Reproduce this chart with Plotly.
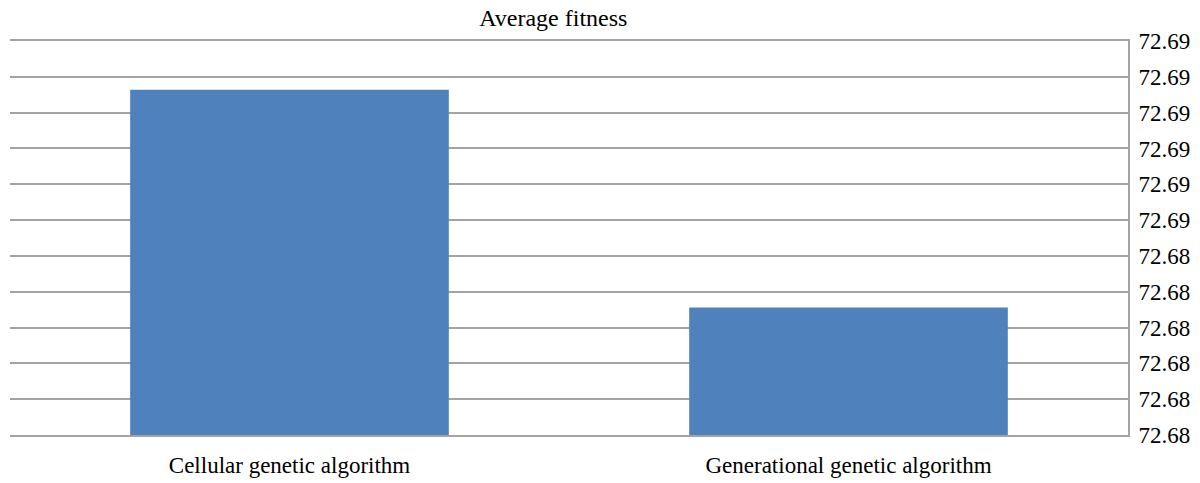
import plotly.graph_objects as go

# Categories and average fitness values
categories = ["Cellular genetic algorithm", "Generational genetic algorithm"]
avg_fitness = [72.68732, 72.68428]

# Y-axis ticks (values shown rounded to two decimals)
y_tick_values = [72.6825, 72.6830, 72.6835, 72.6840, 72.6845, 72.6850,
                 72.6855, 72.6860, 72.6865, 72.6870, 72.6875, 72.6880]
y_tick_labels = ["72.68", "72.68", "72.68", "72.68", "72.68", "72.68",
                 "72.69", "72.69", "72.69", "72.69", "72.69", "72.69"]

serif = "Liberation Serif, Times New Roman, serif"
grid_grey = "#a3a3a3"

fig = go.Figure(
    go.Bar(
        x=categories,
        y=avg_fitness,
        marker=dict(color="#4f81bd", line=dict(width=0)),
        showlegend=False,
    )
)

fig.update_layout(
    width=1200,
    height=483,
    margin=dict(l=10, r=72, t=41, b=48),
    paper_bgcolor="white",
    plot_bgcolor="white",
    bargap=0.43,
    title=dict(
        text="Average fitness",
        font=dict(family=serif, size=24, color="#000000"),
        xref="paper",
        x=0.486,
        xanchor="center",
        yref="container",
        y=0.963,
        yanchor="middle",
    ),
    xaxis=dict(
        # axis line + mirror give the bottom and top rules of the grid
        showline=True,
        mirror=True,
        linecolor=grid_grey,
        linewidth=2,
        showgrid=False,
        zeroline=False,
        ticks="",
        automargin=False,
        tickfont=dict(family=serif, size=23, color="#000000"),
        ticklabelstandoff=8,
    ),
    yaxis=dict(
        side="right",
        range=[y_tick_values[0], y_tick_values[-1]],
        tickmode="array",
        tickvals=y_tick_values,
        ticktext=y_tick_labels,
        showgrid=True,
        gridcolor=grid_grey,
        gridwidth=2,
        showline=True,
        linecolor=grid_grey,
        linewidth=2,
        zeroline=False,
        ticks="",
        automargin=False,
        ticklabelstandoff=4,
        tickfont=dict(family=serif, size=23, color="#000000"),
    ),
)

fig.write_html("out.html")
